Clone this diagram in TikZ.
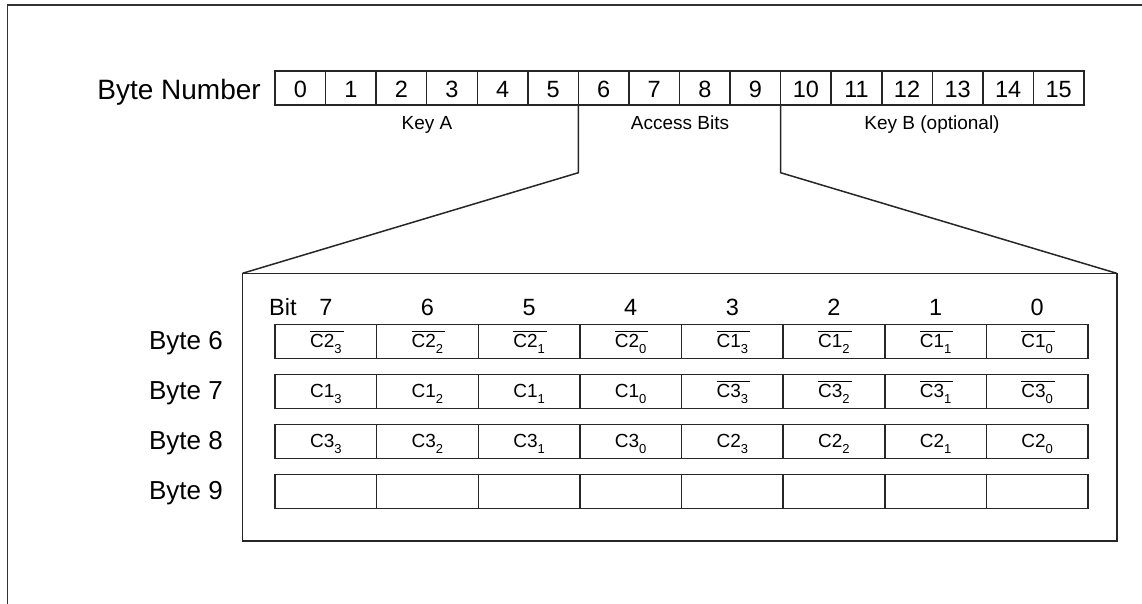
\documentclass[tikz,border=0pt]{standalone}
\usepackage{fontspec}
\setmainfont{Liberation Sans}
\newcommand\cellC[2]{C#1\raisebox{-6.5pt}{\fontsize{13}{14}\selectfont #2}}
\newcommand\cellCbar[2]{\setbox0\hbox{\cellC{#1}{#2}}\rlap{\rule[15.5pt]{\dimexpr\wd0+2pt\relax}{1pt}}\box0}
\begin{document}
\begin{tikzpicture}[x=1pt,y=-1pt,
  frameline/.style={draw=black!80,line width=1.5pt},
  bytebox/.style={draw=black!85,line width=1.5pt,minimum width=50.5625pt,minimum height=34pt,inner sep=0pt,outer sep=0pt,font=\fontsize{23.5}{24}\selectfont,text height=19pt,text depth=0pt},
  bitcell/.style={draw=black!85,line width=1.5pt,minimum width=101.625pt,minimum height=34pt,inner sep=0pt,outer sep=0pt,font=\fontsize{19}{20}\selectfont,text height=12pt,text depth=0pt},
  biglabel/.style={font=\fontsize{28}{30}\selectfont,inner sep=0pt,anchor=base east},
  rowlabel/.style={font=\fontsize{26}{28}\selectfont,inner sep=0pt,anchor=base east},
  keylabel/.style={font=\fontsize{19}{20}\selectfont,inner sep=0pt,anchor=base},
  bitnum/.style={font=\fontsize{23.5}{24}\selectfont,inner sep=0pt,anchor=base},
  innerbox/.style={draw=black!85,line width=1.6pt,minimum width=874.2pt,minimum height=267.4pt,inner sep=0pt,outer sep=0pt,anchor=north west},
  conn/.style={draw=black!85,line width=1.5pt}
]
\useasboundingbox (0,0) rectangle (1142,603);
% outer frame
\coordinate (fbl) at (7.7,604);
\coordinate (ftl) at (7.7,5);
\coordinate (ftr) at (1143,5);
\draw[frameline] (fbl) -- (ftl) -- (ftr);
% byte number row
\node[biglabel] (bn) at (261,99) {Byte Number};
\foreach \i in {0,...,15}
  \node[bytebox] (b\i) at ({275+50.5625*(\i+0.5)},88) {\i};
\node[keylabel] (keyA) at (427,129.3) {Key A};
\node[keylabel] (acc) at (680,129.3) {Access Bits};
\node[keylabel] (keyB) at (932,129.3) {Key B (optional)};
% inner box
\node[innerbox] (inner) at (242.5,273.3) {};
% connectors
\coordinate (lk) at (578.4,172.7);
\coordinate (rk) at (780.6,172.7);
\draw[conn] (b5.south east) -- (lk) -- (inner.north west);
\draw[conn] (b9.south east) -- (rk) -- (inner.north east);
% bit header
\node[bitnum,anchor=base west] (bitlab) at (269,315) {Bit};
\foreach \n [count=\j from 0] in {7,6,5,4,3,2,1,0}
  \node[bitnum] (h\j) at ({275+101.625*(\j+0.5)},315) {\n};
% row labels
\foreach \r/\yc in {6/341.3,7/391.3,8/441.3,9/491.3}
  \node[rowlabel] (lab\r) at (223,\yc+7.7) {Byte \r};
% rows
\foreach \t [count=\j from 0] in {{\cellCbar23},{\cellCbar22},{\cellCbar21},{\cellCbar20},{\cellCbar13},{\cellCbar12},{\cellCbar11},{\cellCbar10}}
  \node[bitcell] (rA\j) at ({275+101.625*(\j+0.5)},341.3) {\t};
\foreach \t [count=\j from 0] in {{\cellC13},{\cellC12},{\cellC11},{\cellC10},{\cellCbar33},{\cellCbar32},{\cellCbar31},{\cellCbar30}}
  \node[bitcell] (rB\j) at ({275+101.625*(\j+0.5)},391.3) {\t};
\foreach \t [count=\j from 0] in {{\cellC33},{\cellC32},{\cellC31},{\cellC30},{\cellC23},{\cellC22},{\cellC21},{\cellC20}}
  \node[bitcell] (rC\j) at ({275+101.625*(\j+0.5)},441.3) {\t};
\foreach \j in {0,...,7}
  \node[bitcell] (rD\j) at ({275+101.625*(\j+0.5)},491.3) {};
\end{tikzpicture}
\end{document}
